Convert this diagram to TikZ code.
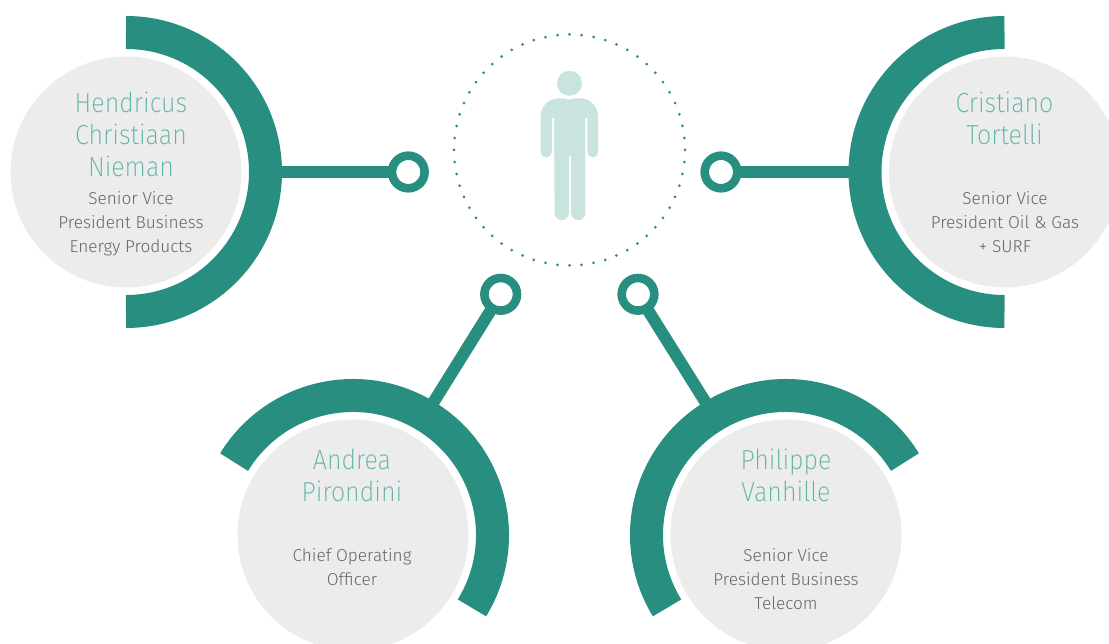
\documentclass[tikz,border=0pt]{standalone}
\usepackage{fontspec}
\setmainfont{Fira Sans Light}
\newfontfamily\namefont[FakeStretch=0.91]{Fira Sans ExtraLight}
\definecolor{bandteal}{HTML}{288F80}
\definecolor{bubblegrey}{HTML}{ECECEC}
\definecolor{nameteal}{HTML}{62B3A5}
\definecolor{roletext}{HTML}{666666}
\definecolor{figureteal}{HTML}{C9E3DE}
\tikzset{
  bubble/.style={circle,fill=bubblegrey,minimum size=231pt,inner sep=0pt},
  band/.style={draw=bandteal,line width=33pt},
  link/.style={draw=bandteal,line width=12pt,shorten >=-3pt},
  ring/.style={circle,draw=bandteal,fill=white,line width=8.6pt,minimum size=32.6pt,inner sep=0pt},
  personname/.style={align=center,text=nameteal,font=\namefont\fontsize{27.5}{32}\selectfont},
  persontitle/.style={align=center,text=roletext,font=\fontsize{17.2}{24}\selectfont},
}
\begin{document}
\begin{tikzpicture}[x=1pt,y=1pt]
    \useasboundingbox (0,0) rectangle (1109,644);

    % dotted circle and figure
    \foreach \a in {0,6,...,354} {
        \fill[bandteal] (569.5,494) ++(\a:115.5) circle (1.5);
    }
    \node[circle,fill=figureteal,minimum size=25pt,inner sep=0pt] (head) at (569.5,560.7) {};
    \fill[figureteal] (540.7,527.7) arc[start angle=180,end angle=90,radius=18] -- (565.5,545.7)
        -- (567,544.5) -- (572,544.5) -- (573.5,545.7) -- (580,545.7)
        arc[start angle=90,end angle=0,radius=18] -- (598,492)
        arc[start angle=0,end angle=-180,radius=5.35] -- (587.3,526) -- (585.3,526) -- (585.3,431)
        arc[start angle=0,end angle=-180,radius=7.1] -- (571.1,487.5) -- (568.8,487.5) -- (568.8,431)
        arc[start angle=0,end angle=-180,radius=7.1] -- (554,526) -- (551.9,526) -- (551.9,492)
        arc[start angle=0,end angle=-180,radius=5.6] -- cycle;

    % bubbles
    \node[bubble] (hendricus) at (126,472) {};
    \node[bubble] (cristiano) at (1004.5,472) {};
    \node[bubble] (andrea) at (353,109) {};
    \node[bubble] (philippe) at (786,109) {};

    % bands
    \draw[band] (126,611.5) arc[start angle=90,end angle=-90,radius=139.5];
    \draw[band] (1004.5,611.5) arc[start angle=90,end angle=270,radius=139.5];
    \draw[band] (353,109) ++(148.5:139.5) arc[start angle=148.5,end angle=-31.5,radius=139.5];
    \draw[band] (786,109) ++(31.5:139.5) arc[start angle=31.5,end angle=211.5,radius=139.5];

    % rings and links
    \coordinate (hendricusend) at (270,472);
    \coordinate (cristianoend) at (860,472);
    \coordinate (andreaend) at (433,241);
    \coordinate (philippeend) at (706,241);
    \node[ring] (ringh) at (408.3,472) {};
    \node[ring] (ringc) at (721,472) {};
    \node[ring] (ringa) at (500.7,349.7) {};
    \node[ring] (ringp) at (638,349.7) {};
    \draw[link] (hendricusend) -- (ringh);
    \draw[link] (cristianoend) -- (ringc);
    \draw[link] (andreaend) -- (ringa);
    \draw[link] (philippeend) -- (ringp);

    % names
    \node[personname] (nameh) at (131,510) {Hendricus\\Christiaan\\Nieman};
    \node[personname] (namec) at (1004.5,526) {Cristiano\\Tortelli};
    \node[personname] (namea) at (352,169) {Andrea\\Pirondini};
    \node[personname] (namep) at (786,169) {Philippe\\Vanhille};

    % titles
    \node[persontitle] (titleh) at (131,420) {Senior Vice\\President Business\\Energy Products};
    \node[persontitle] (titlec) at (1005,422) {Senior Vice\\President Oil \& Gas\\+ SURF};
    \node[persontitle] (titlea) at (352,77) {Chief Operating\\Officer};
    \node[persontitle] (titlep) at (786,65) {Senior Vice\\President Business\\Telecom};
\end{tikzpicture}
\end{document}
